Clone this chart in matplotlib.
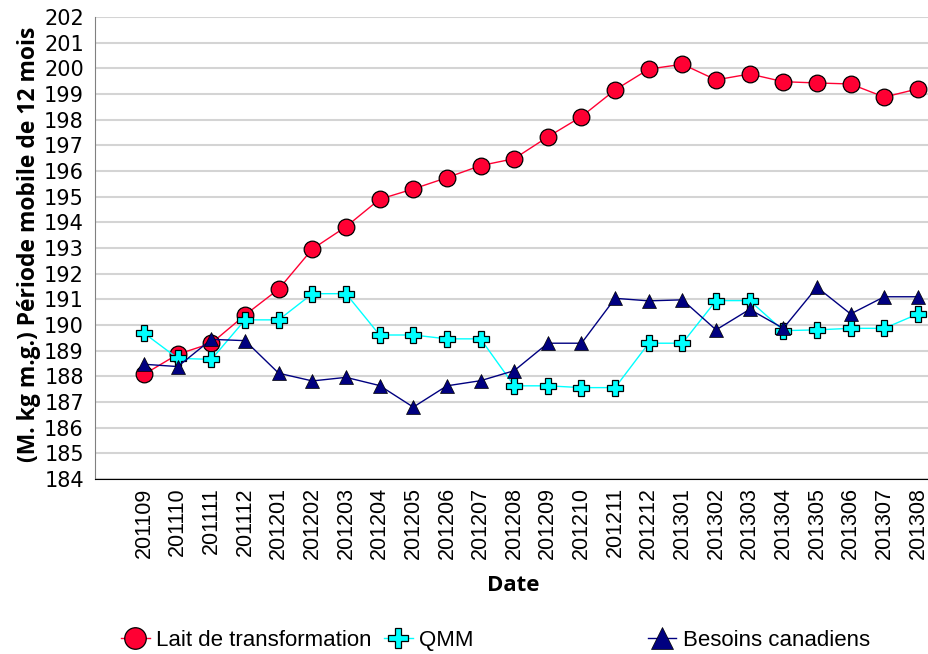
import matplotlib.pyplot as plt
from matplotlib.lines import Line2D

dates = ["201109", "201110", "201111", "201112", "201201", "201202", "201203",
         "201204", "201205", "201206", "201207", "201208", "201209", "201210",
         "201211", "201212", "201301", "201302", "201303", "201304", "201305",
         "201306", "201307", "201308"]
lait = [188.08, 188.86, 189.29, 190.39, 191.40, 192.96, 193.83, 194.90, 195.30,
        195.74, 196.21, 196.48, 197.33, 198.12, 199.16, 199.97, 200.16, 199.55,
        199.78, 199.48, 199.43, 199.39, 198.88, 199.20]
qmm = [189.68, 188.70, 188.66, 190.20, 190.20, 191.22, 191.22, 189.61, 189.61,
       189.46, 189.46, 187.63, 187.63, 187.56, 187.56, 189.29, 189.29, 190.95,
       190.95, 189.78, 189.81, 189.87, 189.87, 190.43]
besoins = [188.47, 188.38, 189.44, 189.39, 188.12, 187.82, 187.96, 187.64, 186.80,
           187.63, 187.83, 188.22, 189.29, 189.29, 191.04, 190.94, 190.98, 189.81,
           190.61, 189.87, 191.47, 190.43, 191.10, 191.10]
yticks = list(range(184, 203))

plt.rcParams['font.family'] = ['Liberation Sans', 'DejaVu Sans']

fig = plt.figure(figsize=(9.29, 6.54), dpi=100)
ax = fig.add_axes([0.1023, 0.2676, 0.8977, 0.7064])

x = list(range(len(dates)))
ax.plot(x, lait, color='#FF0033', lw=1, marker='o', ms=12, mfc='#FF0033',
        mec='black', mew=0.9, label='Lait de transformation', zorder=3)
ax.plot(x, qmm, color='#00FFFF', lw=1, marker='P', ms=11, mfc='#00FFFF',
        mec='black', mew=0.9, label='QMM', zorder=4)
ax.plot(x, besoins, color='#000080', lw=1, marker='^', ms=10.5, mfc='#000080',
        mec='black', mew=0.5, label='Besoins canadiens', zorder=5)

ax.set_ylim(184, 202)
ax.set_yticks(yticks)
ax.set_yticklabels([str(v) for v in yticks], family='Liberation Sans Narrow',
                   fontsize=15)
ax.set_xlim(-1.46, 23.33)
ax.set_xticks(x)
ax.set_xticklabels(dates, rotation=90, fontsize=15.5)
ax.tick_params(axis='y', length=0, pad=8)
ax.tick_params(axis='x', length=0, pad=6)
ax.grid(axis='y', color='#D4D4D4', lw=1.5)
ax.set_axisbelow(True)
for s in ['top', 'right']:
    ax.spines[s].set_visible(False)
ax.spines['left'].set_color('#808080')
ax.spines['bottom'].set_color('black')

fig.text(0.031, 0.627, '(M. kg m.g.) Période mobile de 12 mois', family='Open Sans',
         fontweight='bold', fontsize=16.5, rotation=90, ha='center', va='center')
fig.text(0.552, 0.104, 'Date', family='Open Sans', fontweight='bold',
         fontsize=16, ha='center', va='center')

# legend entries placed separately like the original
handles = ax.get_lines()
positions = [0.130, 0.413, 0.697]
sizes = [15.5, 15, 16]
for h, px, sz in zip(handles, positions, sizes):
    hh = Line2D([], [], color=h.get_color(), lw=1, marker=h.get_marker(),
                ms=sz, mfc=h.get_markerfacecolor(),
                mec='black', mew=h.get_markeredgewidth())
    fig.legend([hh], [h.get_label()], loc='center left',
               bbox_to_anchor=(px, 0.0214), frameon=False, fontsize=16,
               handlelength=1.3, handletextpad=0.3, borderpad=0,
               borderaxespad=0)

fig.savefig('out.png', dpi=100)
